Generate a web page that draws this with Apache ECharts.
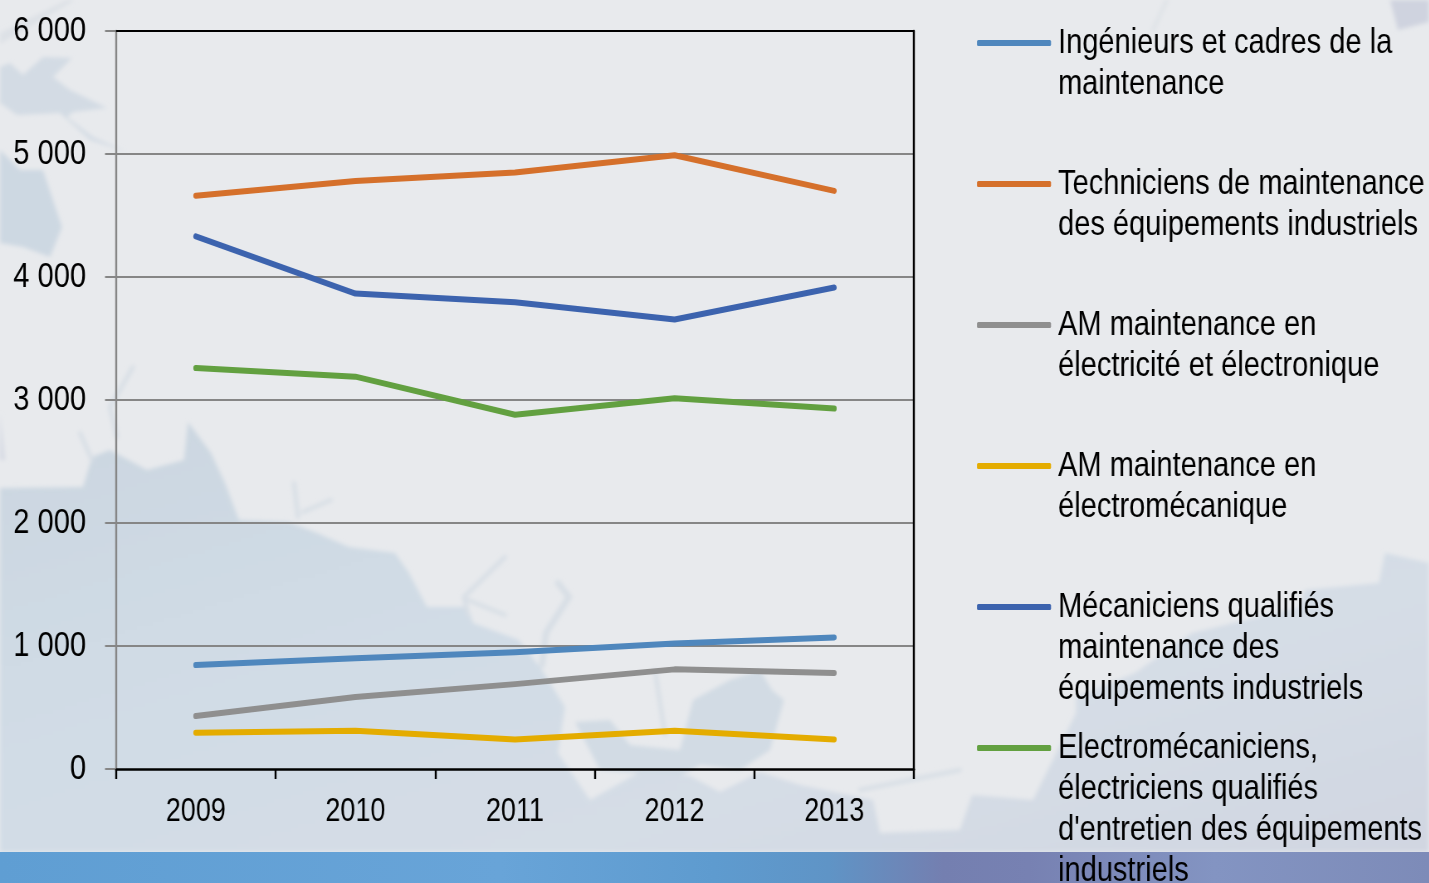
<!DOCTYPE html>
<html>
<head>
<meta charset="utf-8">
<style>
html, body { margin: 0; height: 100%; overflow: hidden; }
#wrap { position: relative; width: 1429px; height: 883px; overflow: hidden; background: #e8eaed; }
#wrap svg { position: absolute; left: 0; top: 0; width: 1429px; height: 883px; }
/* no narrow font is installed, so the whole chart is squeezed sideways */
#main { position: absolute; left: 0; top: 0; height: 883px; transform-origin: 0 0; }
</style>
</head>
<body>
<div id="wrap">
<svg viewBox="0 0 1429 883">
  <defs>
    <linearGradient id="band" x1="0" x2="1" y1="0" y2="0">
      <stop offset="0" stop-color="#5f9ed3"/>
      <stop offset="0.35" stop-color="#68a4d8"/>
      <stop offset="0.5" stop-color="#5e9bcf"/>
      <stop offset="0.58" stop-color="#5f94c6"/>
      <stop offset="0.66" stop-color="#747fb0"/>
      <stop offset="0.72" stop-color="#7781b2"/>
      <stop offset="0.85" stop-color="#8394c2"/>
      <stop offset="1" stop-color="#7d8bb8"/>
    </linearGradient>
    <linearGradient id="sea" x1="0" x2="1" y1="0" y2="1">
      <stop offset="0" stop-color="#cbd6e0"/>
      <stop offset="0.4" stop-color="#d1dce6"/>
      <stop offset="0.7" stop-color="#d5dde6"/>
      <stop offset="1" stop-color="#d1d6e1"/>
    </linearGradient>
    <filter id="soft"><feGaussianBlur stdDeviation="2.2"/></filter>
  </defs>
  <g filter="url(#soft)">
    <path fill="url(#sea)" d="M0 488 L83 487 L92 457 L110 450 L147 470 L184 460 L188 422 L211 453 L225 483 L239 520 L289 522 L317 533 L349 547 L395 553 L409 573 L427 607 L468 607 L473 623 L519 640 L542 670 L565 707 L558 753 L590 800 L640 772 L690 776 L720 792 L760 772 L800 785 L873 800 L880 833 L960 830 L972 795 L1033 800 L1076 713 L1076 697 L1135 673 L1192 633 L1300 607 L1305 590 L1379 583 L1385 553 L1429 563 L1429 852 L0 852 Z"/>
    <path fill="#d2dbe4" d="M575 722 L610 720 L630 745 L680 750 L693 700 L730 680 L760 670 L772 690 L784 700 L770 750 L740 770 L700 765 L680 776 L600 770 Z"/>
    <path fill="#d3dbe4" d="M0 67 L10 63 L23 75 L43 57 L72 58 L53 77 L70 90 L107 108 L73 112 L67 117 L93 137 L127 152 L90 140 L60 113 L17 115 L0 103 Z"/>
    <path fill="#cdd8e2" d="M0 150 L20 170 L43 170 L53 200 L62 227 L50 257 L23 247 L0 243 Z"/>
    <path fill="#dde1e6" d="M0 33 L67 0 L75 0 L0 44 Z"/>
    <path fill="#cfd3df" d="M1390 0 L1429 0 L1429 22 L1398 30 Z"/>
    <path fill="#d5d9e3" d="M0 413 L5 460 L0 460 Z"/>
    <g fill="none" stroke="#d7dee5" stroke-width="4" stroke-linecap="round">
      <path d="M505 557 L464 597 L468 615 M468 600 L505 615"/>
      <path stroke-width="6" d="M558 583 L569 597 L546 633 L542 665"/>
      <path d="M294 483 L298 517 M331 500 L303 512"/>
      <path d="M133 367 L110 407 L117 437 M80 433 L92 460"/>
      <path stroke="#dfe3e7" d="M1167 0 L1153 30"/>
      <path d="M655 670 L665 735"/>
      <path d="M960 770 L860 790"/>
    </g>
  </g>
  <rect x="0" y="852" width="1429" height="31" fill="url(#band)"/>
</svg>
<div id="main"></div>
</div>
<script src="https://cdn.jsdelivr.net/npm/echarts@6/dist/echarts.min.js"></script>
<script type="text/javascript">
var years = ['2009', '2010', '2011', '2012', '2013'];
var yTicks = ['0', '1 000', '2 000', '3 000', '4 000', '5 000', '6 000'];

var ingenieurs = [845, 900, 950, 1020, 1070];
var techniciens = [4660, 4780, 4850, 4990, 4700];
var amElec = [430, 585, 690, 810, 780];
var amElectromeca = [295, 310, 240, 310, 240];
var mecaniciens = [4330, 3865, 3795, 3655, 3915];
var electromeca = [3260, 3190, 2880, 3015, 2930];

var names = [
    'Ingénieurs et cadres de la\nmaintenance',
    'Techniciens de maintenance\ndes équipements industriels',
    'AM maintenance en\nélectricité et électronique',
    'AM maintenance en\nélectromécanique',
    'Mécaniciens qualifiés\nmaintenance des\néquipements industriels',
    'Electromécaniciens,\nélectriciens qualifiés\nd\'entretien des équipements\nindustriels'
];
var values = [ingenieurs, techniciens, amElec, amElectromeca, mecaniciens, electromeca];
var colors = ['#4f87bd', '#d5702b', '#8f8f8f', '#e4ac00', '#3c63ae', '#62a040'];

var fontName = '"Liberation Sans", Arial, sans-serif';
var lineH = 41;
var squeeze = 0.83;

// horizontal sizes below are page pixels, the container gets scaled back by squeeze
function sx(px) {
    return px / squeeze;
}

var mainDom = document.getElementById('main');
mainDom.style.width = sx(1429) + 'px';
mainDom.style.transform = 'scaleX(' + squeeze + ')';

var chart = echarts.init(mainDom);

// one legend per series so the rows keep an even step whatever their line count
var legends = names.map(function (name, i) {
    var n = name.split('\n').length;
    return {
        data: [name],
        left: sx(977),
        top: 22.5 + i * 141 - (n - 1) * lineH,
        padding: 0,
        orient: 'vertical',
        selectedMode: false,
        icon: 'roundRect',
        itemWidth: sx(74),
        itemHeight: 6,
        // blank lines on top keep the swatch level with the first line
        formatter: function (s) {
            return new Array(n).join('\n') + s;
        },
        textStyle: {
            fontFamily: fontName,
            fontSize: 35,
            lineHeight: lineH,
            color: '#000',
            padding: [0, 0, 0, sx(7) - 5]
        }
    };
});

var series = names.map(function (name, i) {
    return {
        name: name,
        type: 'line',
        data: values[i],
        symbol: 'none',
        color: colors[i],
        lineStyle: {width: 6, color: colors[i], cap: 'round', join: 'round'},
        itemStyle: {color: colors[i]}
    };
});

chart.setOption({
    animation: false,
    legend: legends,
    grid: {left: sx(116), top: 31, width: sx(798), height: 738},
    xAxis: [
        {
            type: 'category',
            data: years,
            axisLine: {lineStyle: {color: '#000', width: 2.5}},
            axisTick: {show: true, alignWithLabel: false, length: 10, lineStyle: {color: '#000', width: sx(2)}},
            axisLabel: {fontFamily: fontName, fontSize: 32.5, color: '#000', margin: 27},
            splitLine: {show: false}
        },
        {
            type: 'category',
            position: 'top',
            data: years,
            axisLine: {show: true, onZero: false, lineStyle: {color: '#000', width: 2}},
            axisTick: {show: false},
            axisLabel: {show: false},
            splitLine: {show: false}
        }
    ],
    yAxis: [
        {
            type: 'value',
            min: 0,
            max: 6000,
            interval: 1000,
            axisLine: {show: true, onZero: false, lineStyle: {color: '#868686', width: sx(2)}},
            axisTick: {show: true, length: sx(11), lineStyle: {color: '#868686', width: 2}},
            axisLabel: {
                fontFamily: fontName, fontSize: 35, color: '#000', margin: sx(30),
                formatter: function (v) { return yTicks[v / 1000]; }
            },
            splitLine: {show: true, showMinLine: false, showMaxLine: false, lineStyle: {color: '#868686', width: 2}}
        },
        {
            type: 'value',
            position: 'right',
            min: 0,
            max: 6000,
            interval: 6000,
            axisLine: {show: true, onZero: false, lineStyle: {color: '#000', width: sx(2)}},
            axisTick: {show: false},
            axisLabel: {show: false},
            splitLine: {show: false}
        }
    ],
    series: series
});
</script>
</body>
</html>
